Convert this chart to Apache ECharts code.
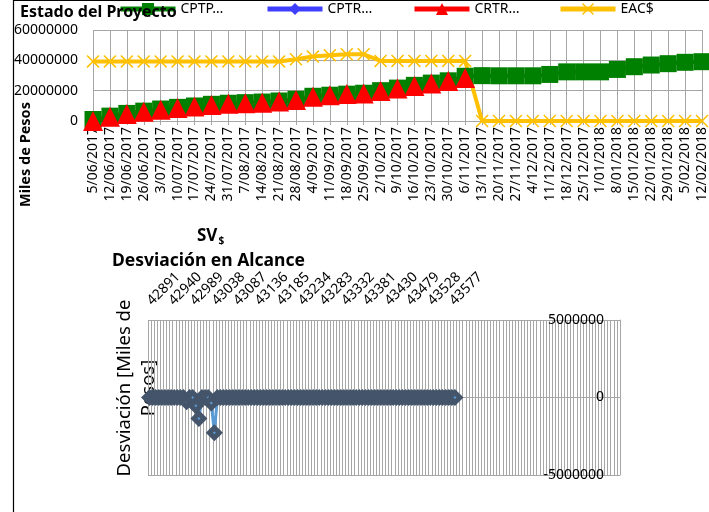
<!DOCTYPE html>
<html>
<head>
<meta charset="utf-8">
<script src="https://cdn.jsdelivr.net/npm/echarts@6/dist/echarts.min.js"></script>
<style>
  html, body { margin: 0; padding: 0; background: #fff; }
  #chart { width: 709px; height: 512px; }
</style>
</head>
<body>
<div id="chart"></div>
<script>
// fechas semanales del estado del proyecto
var fechas = ['5/06/2017','12/06/2017','19/06/2017','26/06/2017','3/07/2017','10/07/2017','17/07/2017',
  '24/07/2017','31/07/2017','7/08/2017','14/08/2017','21/08/2017','28/08/2017','4/09/2017','11/09/2017',
  '18/09/2017','25/09/2017','2/10/2017','9/10/2017','16/10/2017','23/10/2017','30/10/2017','6/11/2017',
  '13/11/2017','20/11/2017','27/11/2017','4/12/2017','11/12/2017','18/12/2017','25/12/2017','1/01/2018',
  '8/01/2018','15/01/2018','22/01/2018','29/01/2018','5/02/2018','12/02/2018'];

var cptp = [1000000, 3200000, 5000000, 6500000, 7900000, 9000000, 9900000, 11000000, 11700000, 12100000,
  12500000, 13200000, 14300000, 16300000, 17000000, 17700000, 18300000, 20000000, 21700000, 23500000,
  25000000, 26500000, 29500000, 29900000, 29800000, 29800000, 29800000, 30700000, 32400000, 32400000,
  32400000, 34000000, 35800000, 36900000, 37800000, 38700000, 39100000];

var cptr = [0, 500000, 1800000, 3200000, 4500000, 5500000, 6400000, 7400000, 8100000, 8600000,
  9000000, 9600000, 10600000, 12500000, 13200000, 14000000, 14500000, 16500000, 18200000, 19800000,
  21500000, 23000000, 25000000];

var crtr = [0, 2800000, 4600000, 6100000, 7500000, 8600000, 9500000, 10600000, 11300000, 11700000,
  12100000, 12800000, 13900000, 16000000, 17000000, 17800000, 18200000, 19800000, 21400000, 23100000,
  24700000, 26300000, 28300000];

var eac = [39300000, 39300000, 39300000, 39300000, 39300000, 39300000, 39300000, 39300000, 39300000, 39300000,
  39300000, 39300000, 40700000, 42500000, 43300000, 44000000, 44000000, 39600000, 39600000, 39600000,
  39600000, 39600000, 39600000, 0, 0, 0, 0, 0, 0, 0,
  0, 0, 0, 0, 0, 0, 0];

// SV: eje de fechas (numero de serie) semanal
var svTicks = [42891, 42940, 42989, 43038, 43087, 43136, 43185, 43234, 43283, 43332, 43381, 43430, 43479, 43528, 43577];
var svSemanas = 153;
var sv = [0, 0, 0, 0, 0, 0, 0, 0, 0, 0,
  0, 0, -270000, 0, 0, -530000, -1350000, 0, 0, 0,
  -350000, -2270000, 0, 0, 0, 0, 0, 0, 0, 0,
  0, 0, 0, 0, 0, 0, 0, 0, 0, 0,
  0, 0, 0, 0, 0, 0, 0, 0, 0, 0,
  0, 0, 0, 0, 0, 0, 0, 0, 0, 0,
  0, 0, 0, 0, 0, 0, 0, 0, 0, 0,
  0, 0, 0, 0, 0, 0, 0, 0, 0, 0,
  0, 0, 0, 0, 0, 0, 0, 0, 0, 0,
  0, 0, 0, 0, 0, 0, 0, 0, 0, 0];

var svCats = [];
for (var k = 0; k < svSemanas; k++) svCats.push(String(k));

var FONT = 'Noto Sans';
var GRIS = '#a6a6a6';
var cruz = 'path://M0,1L1,0L6,5L11,0L12,1L7,6L12,11L11,12L6,7L1,12L0,11L5,6Z';

function leyenda(nombre, left) {
  return {
    data: [nombre], left: left, top: 2, padding: 0,
    itemWidth: 55, itemHeight: 15, selectedMode: false,
    lineStyle: { width: 5 },
    textStyle: { fontSize: 14, color: '#000', fontFamily: FONT }
  };
}

var chart = echarts.init(document.getElementById('chart'));
chart.setOption({
  animation: false,
  textStyle: { fontFamily: FONT },
  title: [
    { text: 'Estado del Proyecto', left: 20, top: 4, padding: 0,
      textStyle: { fontSize: 16, fontWeight: 'bold', color: '#000' } },
    { text: '{a|SV}{b|$}', left: 197, top: 226, padding: 0,
      textStyle: { rich: {
        a: { fontSize: 17, fontWeight: 'bold', color: '#000', fontFamily: FONT },
        b: { fontSize: 10, fontWeight: 'bold', color: '#000', fontFamily: FONT, padding: [10, 0, 0, 1] }
      } } },
    { text: 'Desviación en Alcance', left: 112, top: 252, padding: 0,
      textStyle: { fontSize: 17.5, fontWeight: 'bold', color: '#000' } }
  ],
  legend: [
    leyenda('CPTP…', 118),
    leyenda('CPTR…', 265),
    leyenda('CRTR…', 412),
    leyenda('EAC$', 558)
  ],
  grid: [
    { left: 93, top: 30, width: 609, height: 91 },
    { left: 148, top: 320, width: 472, height: 155 }
  ],
  xAxis: [
    {
      gridIndex: 0, type: 'category', data: fechas, boundaryGap: false,
      axisLine: { lineStyle: { color: GRIS } },
      axisTick: { show: true, length: 4, interval: 0, lineStyle: { color: GRIS } },
      axisLabel: { rotate: 90, interval: 0, fontSize: 14, color: '#000', margin: 6 },
      splitLine: { show: true, interval: 0, lineStyle: { color: GRIS } }
    },
    {
      gridIndex: 1, type: 'category', data: svCats, position: 'top', boundaryGap: true,
      axisLine: { lineStyle: { color: GRIS } },
      axisTick: { show: false },
      axisLabel: {
        rotate: 45, interval: 6, fontSize: 14, color: '#000', margin: 17,
        formatter: function (v, i) {
          return (i % 7 === 0 && i / 7 < svTicks.length) ? String(svTicks[i / 7]) : '';
        }
      },
      splitLine: { show: true, interval: 0, lineStyle: { color: GRIS } }
    }
  ],
  yAxis: [
    {
      gridIndex: 0, type: 'value', min: 0, max: 60000000, interval: 20000000,
      axisLine: { show: false }, axisTick: { show: false },
      axisLabel: { fontSize: 14, color: '#000', margin: 15, formatter: function (v) { return String(v); } },
      splitLine: { lineStyle: { color: GRIS } }
    },
    {
      gridIndex: 1, type: 'value', position: 'right', min: -5000000, max: 5000000, interval: 5000000,
      axisLine: { show: true, lineStyle: { color: GRIS } }, axisTick: { show: false },
      axisLabel: { inside: true, fontSize: 14, color: '#000', margin: 16, formatter: function (v) { return String(v); } },
      splitLine: { lineStyle: { color: GRIS } }
    }
  ],
  series: [
    { name: 'CPTP…', type: 'line', xAxisIndex: 0, yAxisIndex: 0, data: cptp,
      symbol: 'rect', symbolSize: 17, showAllSymbol: true,
      itemStyle: { color: '#008000' }, lineStyle: { color: '#008000', width: 4 } },
    { name: 'CPTR…', type: 'line', xAxisIndex: 0, yAxisIndex: 0, data: cptr,
      symbol: 'diamond', symbolSize: 7, showAllSymbol: true,
      itemStyle: { color: '#3f3fff' }, lineStyle: { color: '#3f3fff', width: 4 } },
    { name: 'CRTR…', type: 'line', xAxisIndex: 0, yAxisIndex: 0, data: crtr,
      symbol: 'triangle', symbolSize: 20, showAllSymbol: true,
      itemStyle: { color: '#ff0000' }, lineStyle: { color: '#ff0000', width: 5 } },
    { name: 'EAC$', type: 'line', xAxisIndex: 0, yAxisIndex: 0, data: eac,
      symbol: cruz, symbolSize: 13, showAllSymbol: true,
      itemStyle: { color: '#ffc000' }, lineStyle: { color: '#ffc000', width: 4 } },
    { name: 'SV', type: 'line', xAxisIndex: 1, yAxisIndex: 1, data: sv,
      symbol: 'diamond', symbolSize: 10, showAllSymbol: true,
      itemStyle: { color: '#5b9bd5', borderColor: '#44546a', borderWidth: 5 },
      lineStyle: { color: '#5b9bd5', width: 3 } }
  ],
  graphic: [
    { type: 'line', shape: { x1: 13.5, y1: 0, x2: 13.5, y2: 512 }, style: { stroke: '#000', lineWidth: 1.2 }, z: 10 },
    { type: 'line', shape: { x1: 13, y1: 0.5, x2: 709, y2: 0.5 }, style: { stroke: '#000', lineWidth: 1.2 }, z: 10 },
    { type: 'text', x: 26, y: 207, rotation: Math.PI / 2,
      style: { text: 'Miles de Pesos', font: 'bold 14.5px "Noto Sans"', fill: '#000',
        textAlign: 'left', textVerticalAlign: 'middle' } },
    { type: 'text', x: 137, y: 388, rotation: Math.PI / 2,
      style: { text: 'Desviación [Miles de\nPesos]', fontSize: 18.5, lineHeight: 24, fontFamily: FONT, fill: '#000',
        textAlign: 'center', textVerticalAlign: 'middle' } }
  ]
});
</script>
</body>
</html>
